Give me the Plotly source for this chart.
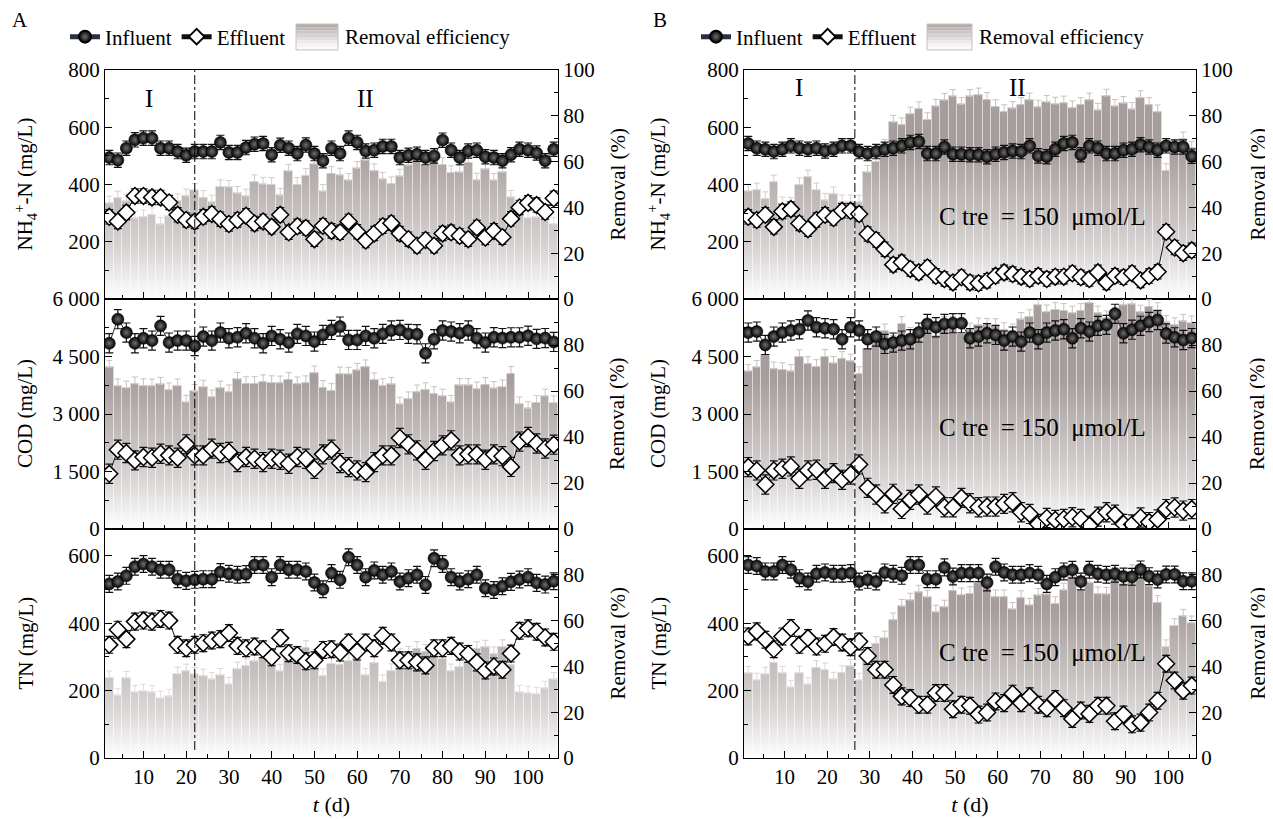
import plotly.graph_objects as go

# sampling days (every second day); panel B is offset by half a day
days_a = list(range(2, 107, 2))
days_b = [d - 0.5 for d in days_a]

# ---------------- Panel A ----------------
nh4_in_a = [494, 485, 527, 556, 562, 562, 527, 527, 515, 502, 515, 515, 515, 547, 512, 512, 529, 541, 543, 504,
            537, 527, 508, 538, 508, 483, 527, 508, 562, 547, 517, 520, 533, 533, 494, 502, 506, 494, 500, 555,
            520, 494, 517, 520, 497, 494, 483, 504, 523, 520, 510, 483, 523]
nh4_eff_a = [287, 271, 302, 360, 360, 355, 355, 337, 294, 276, 271, 287, 297, 279, 262, 276, 291, 264, 271, 252,
             294, 233, 254, 248, 209, 256, 238, 233, 271, 235, 204, 229, 254, 265, 229, 209, 186, 206, 186, 229,
             233, 221, 209, 250, 215, 238, 216, 280, 320, 336, 328, 304, 352]
nh4_rem_a = [41.9, 44.1, 42.7, 35.3, 35.9, 36.8, 32.6, 36.1, 42.9, 45.0, 47.4, 44.3, 42.3, 49.0, 48.8, 46.1, 45.0,
             51.2, 50.1, 50.0, 45.3, 55.8, 50.0, 53.9, 58.9, 47.0, 54.8, 54.1, 51.8, 57.0, 60.5, 56.0, 52.3, 50.3,
             53.6, 58.4, 63.2, 58.3, 62.8, 58.7, 55.2, 55.3, 59.6, 51.9, 56.7, 51.8, 55.3, 44.4, 38.8, 35.4, 35.7,
             37.1, 32.7]

cod_in_a = [4845, 5474, 5124, 4845, 4976, 4915, 5299, 4863, 4915, 4915, 4775, 5020, 4915, 5124, 4976, 5002, 5107,
            4976, 4845, 5037, 4950, 4863, 5090, 5037, 4889, 5063, 5194, 5281, 4932, 4932, 5037, 4976, 5090, 5177,
            5194, 5090, 5081, 4583, 4950, 5177, 5150, 5107, 5177, 4976, 4863, 5002, 4980, 5000, 5000, 5040, 4960,
            4980, 4880]
cod_eff_a = [1440, 2069, 1982, 1790, 1877, 1860, 1964, 1921, 1860, 2209, 1921, 1921, 2095, 1982, 2008, 1746, 1877,
             1833, 1746, 1833, 1807, 1702, 1877, 1833, 1571, 1947, 2069, 1720, 1615, 1528, 1484, 1746, 1921, 1921,
             2375, 2209, 2052, 1807, 2034, 2183, 2313, 1921, 1947, 1947, 1807, 1947, 1900, 1620, 2280, 2400, 2230,
             2100, 2200]
cod_rem_a = [70.3, 62.2, 61.3, 63.1, 62.3, 62.2, 62.9, 60.5, 62.2, 55.1, 59.8, 61.7, 57.4, 61.3, 59.6, 65.1, 63.2,
             63.2, 64.0, 63.6, 63.5, 65.0, 63.1, 63.6, 67.9, 61.5, 60.2, 67.4, 67.3, 69.0, 70.5, 64.9, 62.3, 62.9,
             54.3, 56.6, 59.6, 60.6, 58.9, 57.8, 55.1, 62.4, 62.4, 60.9, 62.8, 61.1, 61.8, 67.6, 54.4, 52.4, 55.0,
             57.8, 54.9]

tn_in_a = [517, 524, 541, 568, 576, 568, 559, 559, 531, 526, 529, 531, 531, 552, 547, 544, 546, 573, 573, 537,
           573, 559, 559, 554, 521, 501, 549, 529, 596, 573, 537, 557, 544, 554, 524, 534, 544, 514, 593, 576,
           537, 524, 531, 544, 504, 499, 510, 523, 530, 537, 520, 515, 525]
tn_eff_a = [336, 381, 353, 405, 408, 405, 413, 408, 336, 326, 336, 341, 349, 353, 371, 333, 326, 331, 323, 299,
            356, 311, 306, 287, 290, 321, 323, 313, 343, 316, 343, 326, 363, 343, 290, 290, 284, 275, 326, 326,
            333, 316, 309, 284, 260, 272, 262, 310, 378, 385, 375, 358, 345]
tn_rem_a = [35.0, 27.3, 34.8, 28.7, 29.2, 28.7, 26.1, 27.0, 36.7, 38.0, 36.5, 35.8, 34.3, 36.1, 32.2, 38.8, 40.3,
            42.2, 43.6, 44.3, 37.9, 44.4, 45.3, 48.2, 44.3, 35.9, 41.2, 40.8, 42.4, 44.9, 36.1, 41.5, 33.3, 38.1,
            44.7, 45.7, 47.8, 46.5, 45.0, 43.4, 38.0, 39.7, 41.8, 47.8, 48.4, 45.5, 48.6, 40.7, 28.7, 28.3, 27.9,
            30.5, 34.3]

# ---------------- Panel B ----------------
nh4_in_b = [543, 527, 523, 515, 523, 535, 527, 523, 527, 517, 523, 535, 535, 515, 508, 515, 523, 527, 535, 547,
            550, 508, 508, 531, 506, 506, 504, 504, 497, 506, 512, 517, 515, 535, 500, 497, 523, 543, 547, 504,
            535, 527, 508, 508, 520, 523, 539, 531, 520, 535, 531, 531, 499]
nh4_eff_b = [287, 276, 294, 252, 306, 314, 264, 244, 276, 294, 283, 308, 308, 297, 227, 206, 174, 120, 128, 105,
             93, 110, 81, 70, 58, 76, 58, 55, 64, 81, 93, 87, 78, 70, 81, 70, 78, 78, 90, 76,
             70, 93, 58, 81, 76, 90, 65, 80, 95, 235, 180, 160, 170]
nh4_rem_b = [47.1, 47.6, 43.8, 51.1, 41.5, 41.3, 49.9, 53.3, 47.6, 43.1, 45.9, 42.4, 42.4, 42.3, 55.3, 60.0, 66.7,
             77.2, 76.1, 80.8, 83.1, 78.3, 84.1, 86.8, 88.5, 85.0, 88.5, 89.1, 87.1, 84.0, 81.8, 83.2, 84.9, 86.9,
             83.8, 85.9, 85.1, 85.6, 83.5, 84.9, 86.9, 82.4, 88.6, 84.1, 85.4, 82.8, 87.9, 84.9, 81.7, 56.1, 66.1,
             69.9, 65.9]

cod_in_b = [5124, 5150, 4802, 5020, 5124, 5177, 5212, 5439, 5264, 5238, 5212, 4950, 5264, 5177, 4950, 5020, 4828,
            4863, 4915, 4950, 5124, 5351, 5264, 5351, 5369, 5369, 4976, 5020, 5107, 5063, 4915, 5020, 4889, 5124,
            4950, 5124, 5177, 5212, 4976, 5238, 5150, 5299, 5325, 5613, 5107, 5200, 5300, 5400, 5450, 5100, 5000,
            4930, 4980]
cod_eff_b = [1615, 1528, 1161, 1528, 1571, 1633, 1310, 1528, 1545, 1310, 1458, 1283, 1423, 1685, 1074, 899, 672,
             917, 524, 760, 899, 637, 847, 567, 567, 812, 672, 567, 585, 585, 655, 698, 437, 393, 131, 288, 236,
             262, 306, 262, 87, 323, 437, 375, 131, 120, 300, 180, 250, 520, 560, 480, 520]
cod_rem_b = [68.5, 70.3, 75.8, 69.6, 69.3, 68.5, 74.9, 71.9, 70.6, 75.0, 72.0, 74.1, 73.0, 67.5, 78.3, 82.1, 86.1,
             81.1, 89.3, 84.6, 82.5, 88.1, 83.9, 89.4, 89.4, 84.9, 86.5, 88.7, 88.5, 88.4, 86.7, 86.1, 91.1, 92.3,
             97.4, 94.4, 95.4, 95.0, 93.9, 95.0, 98.3, 93.9, 91.8, 93.3, 97.4, 97.7, 94.3, 96.7, 95.4, 89.8, 88.8,
             90.3, 89.6]

tn_in_b = [573, 570, 554, 554, 573, 559, 534, 524, 547, 551, 547, 547, 549, 524, 529, 524, 551, 547, 541, 573,
           573, 531, 531, 566, 539, 549, 549, 549, 521, 568, 551, 544, 544, 549, 544, 517, 537, 554, 559, 524,
           559, 547, 544, 547, 539, 538, 560, 540, 530, 545, 545, 525, 525]
tn_eff_b = [361, 376, 351, 323, 361, 386, 336, 356, 331, 339, 359, 343, 329, 346, 303, 262, 262, 217, 183, 178,
            158, 158, 193, 193, 145, 158, 155, 129, 135, 168, 163, 191, 163, 183, 158, 148, 175, 148, 116, 141,
            131, 155, 155, 109, 129, 100, 105, 135, 170, 280, 230, 200, 215]
tn_rem_b = [37.0, 34.0, 36.6, 41.7, 37.0, 30.9, 37.1, 32.1, 39.5, 38.5, 34.4, 37.3, 40.1, 34.0, 42.7, 50.0, 52.4,
            60.3, 66.2, 68.9, 72.4, 70.2, 63.7, 65.9, 73.1, 71.2, 71.8, 76.5, 74.1, 70.4, 70.4, 64.9, 70.0, 66.7,
            71.0, 71.4, 67.4, 73.3, 79.2, 73.1, 76.6, 71.7, 71.5, 80.1, 76.1, 81.4, 81.3, 75.0, 67.9, 48.6, 57.8,
            61.9, 59.0]

# error bar half widths (mg/L) per row, and removal error (%)
conc_err = [25, 250, 25]
rem_err = 3
phase_split = [22, 26.5]   # day of switch from stage I to II, A / B

# ---------------- layout geometry (screen pixels) ----------------
W, H = 1273, 819
OFF = 8   # page body margin in front of the plot div
col_px = [(105, 558), (744, 1196)]
row_px = [(70, 299), (299, 529), (529, 758)]
xranges = [[1, 107], [0.5, 106.5]]
left_title_px = [25, 658]
right_title_px = [617, 1257]
legend_px = [65, 696]
rem_key_px = [(296, 338), (927, 972)]   # hand-made "Removal efficiency" legend box
rem_key_y = (24, 50)

rows = [
    dict(title="NH<sub>4</sub><sup>+</sup>-N (mg/L)", ymax=800, vals=[0, 200, 400, 600, 800],
         text=["", "200", "400", "600", "800"], minor=100),
    dict(title="COD (mg/L)", ymax=6000, vals=[0, 1500, 3000, 4500, 6000],
         text=["0", "1 500", "3 000", "4 500", "6 000"], minor=750),
    dict(title="TN (mg/L)", ymax=680, vals=[0, 200, 400, 600],
         text=["0", "200", "400", "600"], minor=100),
]

panels = [
    (0, 0, days_a, nh4_in_a, nh4_eff_a, nh4_rem_a),
    (0, 1, days_a, cod_in_a, cod_eff_a, cod_rem_a),
    (0, 2, days_a, tn_in_a, tn_eff_a, tn_rem_a),
    (1, 0, days_b, nh4_in_b, nh4_eff_b, nh4_rem_b),
    (1, 1, days_b, cod_in_b, cod_eff_b, cod_rem_b),
    (1, 2, days_b, tn_in_b, tn_eff_b, tn_rem_b),
]

FONT = "Liberation Serif, Times New Roman, serif"
BAR_COLOR = "rgb(166,158,156)"


def aid(prefix, n):
    return prefix if n == 1 else f"{prefix}{n}"


def xd(px):
    return (px - OFF) / W


def yd(px):
    return 1 - (px - OFF) / H


fig = go.Figure()
layout = {}
annotations = []
shapes = []

for p, (c, r, days, inf, eff, rem) in enumerate(panels):
    xn, yb, yo = p + 1, 2 * p + 1, 2 * p + 2
    cfg = rows[r]
    legend = "legend" if c == 0 else "legend2"
    show = r == 0

    fig.add_trace(go.Bar(
        x=days, y=rem, width=2, name="Removal efficiency",
        marker=dict(color=BAR_COLOR, line=dict(color="rgb(222,214,214)", width=1)),
        error_y=dict(type="constant", value=rem_err, valueminus=0, symmetric=False,
                     color="rgb(200,194,194)", thickness=1, width=3),
        xaxis=aid("x", xn), yaxis=aid("y", yb), showlegend=False))

    # white fade towards the bottom of the bars
    fig.add_trace(go.Scatter(
        x=[days[0] - 1, days[-1] + 1], y=[100, 100], mode="lines", fill="tozeroy",
        line=dict(width=0), hoverinfo="skip", showlegend=False,
        fillgradient=dict(type="vertical", start=0, stop=65,
                          colorscale=[[0, "rgba(255,255,255,1)"], [0.3, "rgba(255,255,255,0.6)"],
                                      [1, "rgba(255,255,255,0)"]]),
        xaxis=aid("x", xn), yaxis=aid("y", yb)))

    fig.add_trace(go.Scatter(
        x=days, y=inf, mode="lines+markers", name="Influent", legendrank=1,
        line=dict(color="#2a2f48", width=1),
        marker=dict(symbol="circle", size=12, color="#050505",
                    gradient=dict(type="radial", color="#6e6e6e"), line=dict(color="#000", width=0.6)),
        error_y=dict(type="constant", value=conc_err[r], color="#111", thickness=1.2, width=4),
        xaxis=aid("x", xn), yaxis=aid("y", yo), showlegend=show, legend=legend))

    fig.add_trace(go.Scatter(
        x=days, y=eff, mode="lines+markers", name="Effluent", legendrank=2,
        line=dict(color="#111", width=1),
        marker=dict(symbol="diamond", size=13, color="white", line=dict(color="#000", width=1.5)),
        error_y=dict(type="constant", value=conc_err[r], color="#111", thickness=1.2, width=4),
        xaxis=aid("x", xn), yaxis=aid("y", yo), showlegend=show, legend=legend))

    x0, x1 = col_px[c]
    top, bot = row_px[r]
    tickfont = dict(family=FONT, size=21, color="black")

    layout[aid("xaxis", xn)] = dict(
        domain=[xd(x0), xd(x1)], anchor=aid("y", yb), range=xranges[c],
        tickmode="array", tickvals=list(range(10, 101, 10)), showticklabels=(r == 2),
        ticks="inside", ticklen=7, tickwidth=1, tickcolor="black",
        minor=dict(tickmode="linear", tick0=0, dtick=5, ticks="inside", ticklen=4, tickcolor="black"),
        showline=True, linecolor="black", linewidth=1.3, mirror=True,
        showgrid=False, zeroline=False, tickfont=tickfont,
        title=dict(text="<i>t</i> (d)", font=dict(family=FONT, size=22), standoff=8) if r == 2 else None)

    layout[aid("yaxis", yb)] = dict(
        domain=[yd(bot), yd(top)], anchor=aid("x", xn), side="right", range=[0, 100],
        tickmode="array", tickvals=[0, 20, 40, 60, 80, 100],
        ticktext=["0", "20", "40", "60", "80", "100" if r == 0 else ""],
        ticks="inside", ticklen=7, tickcolor="black",
        minor=dict(tickmode="linear", tick0=0, dtick=10, ticks="inside", ticklen=4, tickcolor="black"),
        showline=True, linecolor="black", linewidth=1.3,
        showgrid=False, zeroline=False, tickfont=tickfont)

    layout[aid("yaxis", yo)] = dict(
        overlaying=aid("y", yb), anchor=aid("x", xn), side="left", range=[0, cfg["ymax"]],
        tickmode="array", tickvals=cfg["vals"], ticktext=cfg["text"],
        ticks="inside", ticklen=7, tickcolor="black",
        minor=dict(tickmode="linear", tick0=0, dtick=cfg["minor"], ticks="inside", ticklen=4,
                   tickcolor="black"),
        showline=True, linecolor="black", linewidth=1.3,
        showgrid=False, zeroline=False, tickfont=tickfont)

    # axis titles as annotations so they line up between rows
    ymid = yd((top + bot) / 2)
    annotations.append(dict(text=cfg["title"], x=xd(left_title_px[c]), y=ymid, xref="paper", yref="paper",
                            xanchor="center", yanchor="middle", textangle=-90, showarrow=False,
                            font=dict(family=FONT, size=21)))
    annotations.append(dict(text="Removal (%)", x=xd(right_title_px[c]), y=ymid, xref="paper", yref="paper",
                            xanchor="center", yanchor="middle", textangle=-90, showarrow=False,
                            font=dict(family=FONT, size=21)))

    if c == 1:
        annotations.append(dict(text="C tre\u00a0\u00a0=\u00a0150\u00a0\u00a0\u03bcmol/L", x=70.5,
                                y=[36, 44, 46][r], xref=aid("x", xn), yref=aid("y", yb),
                                xanchor="center", yanchor="middle",
                                showarrow=False, font=dict(family=FONT, size=25)))

# stage labels and stage boundary
for c, xs, yv in [(0, (11.3, 62), 87.5), (1, (13.5, 64.7), 92.5)]:
    xn, yb = c * 3 + 1, c * 6 + 1
    for txt, xv in zip(["I", "II"], xs):
        annotations.append(dict(text=txt, x=xv, y=yv, xref=aid("x", xn), yref=aid("y", yb),
                                xanchor="center", yanchor="middle",
                                showarrow=False, font=dict(family=FONT, size=25)))
    shapes.append(dict(type="line", xref=aid("x", xn), yref="paper", x0=phase_split[c], x1=phase_split[c],
                       y0=yd(750), y1=yd(row_px[0][0]),
                       line=dict(color="black", width=1, dash="dashdot")))

# "Removal efficiency" legend key: box shaded from grey (top) to white (bottom)
key_shades = [(180, 172, 170), (192, 185, 183), (204, 198, 196), (215, 210, 209),
              (226, 222, 221), (236, 233, 232), (244, 242, 242), (250, 249, 249)]
for c in range(2):
    kx0, kx1 = rem_key_px[c]
    ky0, ky1 = rem_key_y
    step = (ky1 - ky0) / len(key_shades)
    for i, rgb in enumerate(key_shades):
        shapes.append(dict(type="rect", xref="paper", yref="paper", x0=xd(kx0), x1=xd(kx1),
                           y0=yd(ky0 + (i + 1) * step), y1=yd(ky0 + i * step),
                           fillcolor="rgb(%d,%d,%d)" % rgb, line=dict(width=0)))
    shapes.append(dict(type="rect", xref="paper", yref="paper", x0=xd(kx0), x1=xd(kx1),
                       y0=yd(ky1), y1=yd(ky0), line=dict(color="rgb(200,192,192)", width=1)))
    annotations.append(dict(text="Removal efficiency", x=xd(kx1 + 5), y=yd(37), xref="paper", yref="paper",
                            xanchor="left", yanchor="middle", showarrow=False,
                            font=dict(family=FONT, size=21)))

annotations.append(dict(text="A", x=xd(20), y=yd(20), xref="paper", yref="paper", showarrow=False,
                        xanchor="center", yanchor="middle", font=dict(family=FONT, size=21)))
annotations.append(dict(text="B", x=xd(660), y=yd(20), xref="paper", yref="paper", showarrow=False,
                        xanchor="center", yanchor="middle", font=dict(family=FONT, size=21)))

leg = dict(orientation="h", yanchor="middle", y=yd(37), xanchor="left",
           font=dict(family=FONT, size=21, color="black"), bgcolor="rgba(0,0,0,0)",
           itemsizing="constant", traceorder="normal")

fig.update_layout(
    width=W, height=H, margin=dict(l=0, r=0, t=0, b=0, autoexpand=False),
    paper_bgcolor="white", plot_bgcolor="white", bargap=0,
    font=dict(family=FONT, color="black"),
    legend=dict(leg, x=xd(legend_px[0])), legend2=dict(leg, x=xd(legend_px[1])),
    annotations=annotations, shapes=shapes, **layout)

fig.write_html("out.html")
